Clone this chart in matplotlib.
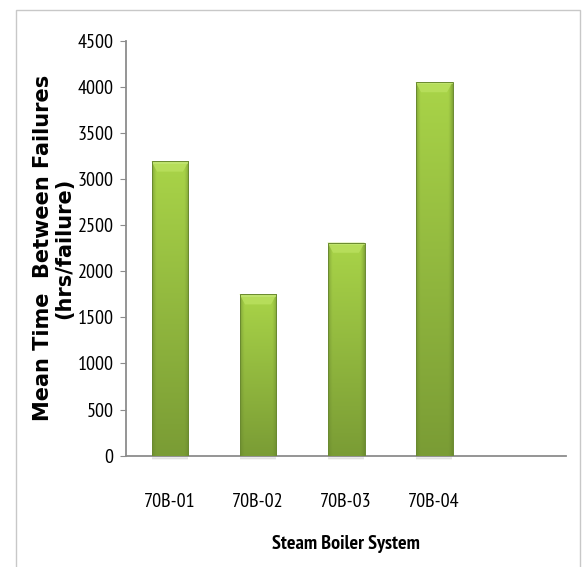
import numpy as np
import matplotlib
matplotlib.use("Agg")
import matplotlib.pyplot as plt
from matplotlib.patches import Rectangle, Polygon
from matplotlib.colors import to_rgb

categories = ["70B-01", "70B-02", "70B-03", "70B-04", ""]
mtbf = [3190, 1750, 2310, 4050, 0]
yticks = list(range(0, 4501, 500))

TICK_FONT = ["PT Sans Narrow", "Carlito", "DejaVu Sans"]
XLAB_FONT = ["PT Sans Narrow", "Carlito", "DejaVu Sans"]

fig = plt.figure(figsize=(5.86, 5.67), dpi=100)
ax = fig.add_axes([0.215, 0.1963, 0.751, 0.7321])

# outer chart frame
fig.patches.append(Rectangle((0.0273, -0.02), 0.9625, 1.0024, transform=fig.transFigure,
                             fill=False, edgecolor="#c8c8c8", linewidth=1.0))

x = np.arange(len(categories))
bars = ax.bar(x[:4], mtbf[:4], width=0.42, color="#97c243", edgecolor="#6a8a30",
              linewidth=0.7, zorder=3)

top_c = np.array(to_rgb("#a9d448"))
bot_c = np.array(to_rgb("#7a9c35"))
edge_c = np.array(to_rgb("#62802b"))

for b in bars:
    bx, bw, bh = b.get_x(), b.get_width(), b.get_height()
    ny, nx = 200, 60
    t = np.linspace(0, 1, ny)[:, None]          # 0 at top, 1 at bottom
    u = np.linspace(0, 1, nx)[None, :]
    body = top_c[None, None, :] * (1 - t[..., None]) + bot_c[None, None, :] * t[..., None]
    # darker rims on the left and right sides
    rim = np.clip(1 - np.minimum(u, 1 - u) / 0.13, 0, 1)[..., None] ** 1.5
    img = body * (1 - 0.55 * rim) + edge_c * 0.55 * rim
    im = ax.imshow(img, extent=(bx, bx + bw, 0, bh), aspect="auto", zorder=3.5,
                   interpolation="bilinear")
    im.set_clip_path(b)
    # bevelled top face
    dx = bw * 0.15
    dy = 110
    bevel = Polygon([(bx, bh), (bx + bw, bh), (bx + bw - dx, bh - dy), (bx + dx, bh - dy)],
                    closed=True, facecolor="#b9e05e", edgecolor="none", alpha=0.85, zorder=3.6)
    ax.add_patch(bevel)
    ax.add_patch(Rectangle((bx, bh - 25), bw, 25, facecolor="#c6e77c", edgecolor="none",
                           alpha=0.6, zorder=3.7))
    # soft shadow under the bar
    for k, a in enumerate([0.22, 0.12, 0.05]):
        ax.add_patch(Rectangle((bx + 0.01, -18 - 14 * k), bw - 0.02, 18, facecolor="#555555",
                               edgecolor="none", alpha=a, zorder=2, clip_on=False))
    b.set_facecolor("none")
    b.set_zorder(4)

ax.set_xlim(-0.5, len(categories) - 0.5)
ax.set_ylim(0, 4500)
ax.set_yticks(yticks)
ax.set_xticks(x[:4])
ax.set_xticklabels(categories[:4])

for s in ["top", "right"]:
    ax.spines[s].set_visible(False)
for s in ["left", "bottom"]:
    ax.spines[s].set_color("#8c8c8c")
    ax.spines[s].set_linewidth(1.3)

ax.tick_params(axis="y", length=4, color="#8c8c8c", pad=5)
ax.tick_params(axis="x", length=0, pad=27)
for lab in ax.get_yticklabels() + ax.get_xticklabels():
    lab.set_fontfamily(TICK_FONT)
    lab.set_fontsize(14.5)
    lab.set_color("#000000")

ax.set_xlabel("Steam Boiler System", fontfamily=XLAB_FONT,
              fontweight="bold", fontsize=14.5, labelpad=17)
ax.set_ylabel("Mean Time  Between Failures\n(hrs/failure)", fontfamily="DejaVu Sans",
              fontweight="bold", fontsize=15, labelpad=2, linespacing=1.1)

fig.savefig("out.png", dpi=100)
